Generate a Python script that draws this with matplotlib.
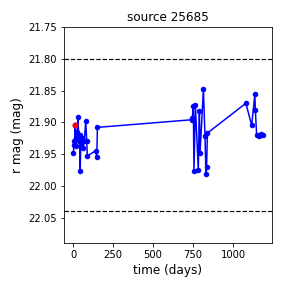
import matplotlib
matplotlib.use("Agg")
import matplotlib.pyplot as plt

# light curve
days = [2, 5, 8, 12, 16, 20, 25, 31, 35, 40, 44, 48, 55, 62, 70, 79, 85, 89, 140, 148, 152,
        742, 746, 752, 756, 765, 783, 790, 794, 815, 825, 831, 835, 840,
        1081, 1117, 1137, 1140, 1148, 1165, 1173, 1185]
mags = [21.949, 21.930, 21.935, 21.905, 21.925, 21.938, 21.915, 21.891, 21.930, 21.920, 21.977,
        21.935, 21.925, 21.940, 21.930, 21.898, 21.930, 21.953, 21.945, 21.955, 21.908,
        21.896, 21.893, 21.875, 21.976, 21.873, 21.975, 21.882, 21.949, 21.848, 21.922, 21.981,
        21.971, 21.917,
        21.870, 21.905, 21.856, 21.880, 21.920, 21.922, 21.918, 21.920]
ref_day = [12]
ref_mag = [21.904]
limits = [21.80, 22.04]

fig = plt.figure(figsize=(4, 4), dpi=72)
ax = fig.add_axes([0.2222, 0.15625, 0.7222, 0.75])

ax.plot(days, mags, 'b-o', markersize=4.5, linewidth=1.5)
ax.plot(ref_day, ref_mag, 'ro', markersize=5)
for lim in limits:
    ax.axhline(lim, color='k', linestyle='--', linewidth=1.2)

ax.set_ylim(limits[1] + 0.05, limits[0] - 0.05)
ax.set_xlabel('time (days)', fontsize=12)
ax.set_ylabel('r mag (mag)', fontsize=12)
ax.set_title('source 25685', fontsize=12)

fig.savefig('out.png', dpi=72)
